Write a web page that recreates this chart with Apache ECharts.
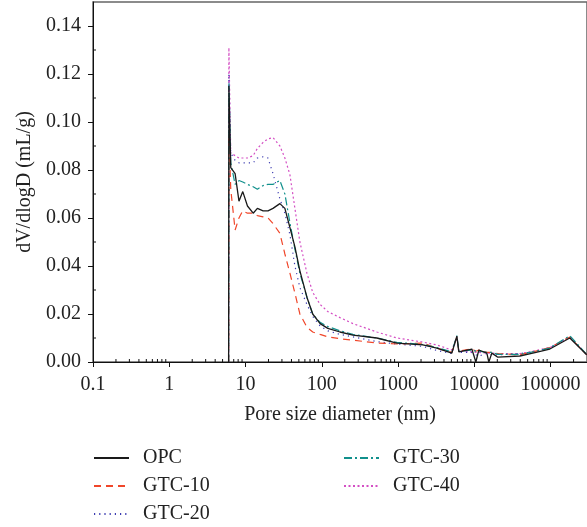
<!doctype html>
<html lang="en">
	<head>
		<meta charset="UTF-8">
		<title>pore size distribution</title>
		<script src="https://cdn.jsdelivr.net/npm/echarts@6/dist/echarts.min.js"></script>
		<style>
			html, body { margin: 0; padding: 0; background: #fff; }
		</style>
	</head>
	<body>
		<div id="chart" style="width: 587px; height: 527px;"></div>
		<script>
			// pore diameter (nm), shared by all samples
			const diameter = [6.0, 6.05, 6.4, 7.3, 8.2, 9.2, 10.6, 12.6, 14.3, 17, 19.7, 22.9, 28.2, 32.8, 38.2, 44.4, 51.6, 63.8, 76, 95,
				120, 173, 256, 527, 964, 2113, 3223, 5070, 5900, 6265, 9270, 10470, 11450, 14590, 15490, 16950, 20320, 39460, 58430, 97700,
				178500, 298000]

			// dV/dlogD (mL/g)
			const opc = [0, 0.115, 0.081, 0.0785, 0.067, 0.071, 0.065, 0.062, 0.064, 0.063, 0.063, 0.064, 0.066, 0.064, 0.056, 0.048, 0.038, 0.027, 0.020, 0.016,
				0.014, 0.0125, 0.0112, 0.010, 0.0079, 0.0071, 0.0058, 0.0037, 0.0108, 0.0042, 0.0054, 0.0, 0.005, 0.0037, 0.0, 0.0037, 0.002, 0.0025, 0.0037, 0.0054,
				0.010, 0.003]
			const gtc10 = [0, 0.095, 0.072, 0.055, 0.060, 0.063, 0.062, 0.062, 0.061, 0.0605, 0.060, 0.0577, 0.0536, 0.045, 0.037, 0.0287, 0.020, 0.0145, 0.0125, 0.0115,
				0.0105, 0.0097, 0.0091, 0.0079, 0.0075, 0.0079, 0.0058, 0.004, 0.0104, 0.0045, 0.0055, 0.0045, 0.005, 0.004, 0.0035, 0.004, 0.0035, 0.003, 0.0042, 0.006,
				0.0104, 0.003]
			const gtc20 = [0, 0.12, 0.087, 0.084, 0.083, 0.083, 0.083, 0.083, 0.085, 0.0855, 0.085, 0.0785, 0.068, 0.062, 0.053, 0.040, 0.031, 0.024, 0.019, 0.015,
				0.013, 0.0115, 0.0105, 0.0085, 0.0075, 0.0065, 0.0048, 0.0035, 0.0104, 0.004, 0.004, 0.003, 0.0025, 0.0035, 0.003, 0.003, 0.003, 0.0035, 0.0042, 0.006,
				0.0104, 0.003]
			const gtc30 = [0, 0.116, 0.083, 0.074, 0.0756, 0.075, 0.074, 0.073, 0.072, 0.0735, 0.074, 0.074, 0.0756, 0.070, 0.058, 0.047, 0.037, 0.027, 0.020, 0.0165,
				0.0148, 0.013, 0.0115, 0.010, 0.0082, 0.0073, 0.006, 0.0042, 0.011, 0.0045, 0.005, 0.0045, 0.0045, 0.004, 0.004, 0.004, 0.0032, 0.0032, 0.0042, 0.0058,
				0.011, 0.003]
			const gtc40 = [0, 0.131, 0.087, 0.086, 0.085, 0.085, 0.085, 0.086, 0.089, 0.0915, 0.093, 0.0935, 0.090, 0.085, 0.078, 0.064, 0.050, 0.037, 0.029, 0.024,
				0.021, 0.0185, 0.016, 0.0125, 0.010, 0.0083, 0.0071, 0.005, 0.0104, 0.0045, 0.0042, 0.004, 0.004, 0.0037, 0.0037, 0.0037, 0.0035, 0.0035, 0.0045, 0.006,
				0.0104, 0.003]

			// minor tick positions
			const xMinor = []
			for (let e = -1; e <= 5; e++) {
				for (let m = 2; m <= 9; m++) {
					let v = m * Math.pow(10, e)
					if (v < 300000) xMinor.push(+v.toPrecision(3))
				}
			}
			const yMinor = [0.01, 0.03, 0.05, 0.07, 0.09, 0.11, 0.13]

			const font = '"Liberation Serif", "DejaVu Serif", serif'
			const fs = 20

			let mCharts = echarts.init(document.getElementById('chart'))

			function pairs(vals) {
				return diameter.map((d, i) => [d, vals[i]])
			}

			function lineSeries(name, vals, color, dash, width) {
				return {
					name: name,
					type: 'line',
					data: pairs(vals),
					symbol: 'none',
					lineStyle: { color: color, width: width || 1.2, type: dash },
					itemStyle: { color: color },
					emphasis: { disabled: true },
					animation: false
				}
			}

			function legendCol(names, left) {
				return {
					data: names,
					orient: 'vertical',
					left: left, top: 448,
					padding: 0,
					height: 80,
					itemWidth: 35, itemHeight: 14, itemGap: 8,
					itemStyle: { opacity: 0 },
					textStyle: { fontFamily: font, fontSize: fs, color: '#222', lineHeight: 20, padding: [0, 0, 0, 9] }
				}
			}

			let option = {
				backgroundColor: '#fff',
				textStyle: { fontFamily: font },
				grid: {
					left: 93, right: -1, top: 2, bottom: 165,
					show: true, borderColor: '#666', borderWidth: 1.5
				},
				legend: [
					legendCol(['OPC', 'GTC-10', 'GTC-20'], 93),
					legendCol(['GTC-30', 'GTC-40'], 343)
				],
				xAxis: {
					type: 'log',
					min: 0.1,
					max: 300000,
					name: 'Pore size diameter (nm)',
					nameLocation: 'middle',
					nameGap: 43,
					nameTextStyle: { fontFamily: font, fontSize: fs, color: '#222' },
					axisLine: { lineStyle: { color: '#111', width: 1 } },
					axisTick: { show: true, length: 5, lineStyle: { color: '#111' } },
					axisLabel: {
						fontFamily: font, fontSize: fs, color: '#222', margin: 13,
						formatter: (v) => String(v)
					},
					splitLine: { show: false }
				},
				yAxis: {
					type: 'value',
					min: 0,
					max: 0.15,
					interval: 0.02,
					name: 'dV/dlogD (mL/g)',
					nameLocation: 'middle',
					nameGap: 58,
					nameTextStyle: { fontFamily: font, fontSize: fs, color: '#222' },
					axisLine: { show: true, lineStyle: { color: '#111', width: 1 } },
					axisTick: { show: true, length: 5, lineStyle: { color: '#111' } },
					axisLabel: {
						fontFamily: font, fontSize: fs, color: '#222', margin: 12,
						showMaxLabel: false,
						formatter: (v) => v.toFixed(2)
					},
					splitLine: { show: false }
				},
				series: [
					lineSeries('GTC-40', gtc40, '#d44fc4', [2, 2.5]),
					lineSeries('GTC-20', gtc20, '#3b3bb0', [1.2, 4]),
					lineSeries('GTC-10', gtc10, '#f0462a', [7, 5]),
					lineSeries('GTC-30', gtc30, '#11908c', [8, 3, 2, 3]),
					lineSeries('OPC', opc, '#1a1a1a', 'solid', 1.3),
					{
						type: 'custom',
						silent: true,
						clip: false,
						animation: false,
						data: xMinor.map(v => [v, 0]),
						renderItem: (params, api) => {
							let p = api.coord([api.value(0), 0])
							return {
								type: 'line',
								shape: { x1: p[0], y1: p[1], x2: p[0], y2: p[1] - 3 },
								style: { stroke: '#111', lineWidth: 1 }
							}
						}
					},
					{
						type: 'custom',
						silent: true,
						clip: false,
						animation: false,
						data: yMinor.map(v => [0.1, v]),
						renderItem: (params, api) => {
							let p = api.coord([0.1, api.value(1)])
							return {
								type: 'line',
								shape: { x1: p[0], y1: p[1], x2: p[0] + 3, y2: p[1] },
								style: { stroke: '#111', lineWidth: 1 }
							}
						}
					}
				]
			}
			mCharts.setOption(option)
		</script>
	</body>
</html>
